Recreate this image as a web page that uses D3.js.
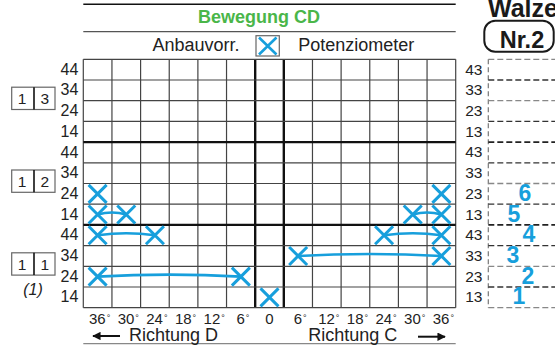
<!DOCTYPE html>
<html>
<head>
<meta charset="utf-8">
<script src="https://cdn.jsdelivr.net/npm/d3@7"></script>
<style>
  html, body { margin: 0; padding: 0; background: #fff; }
  svg { display: block; font-family: "Liberation Sans", Arial, sans-serif; }
</style>
</head>
<body>
<svg id="chart" width="555" height="345"></svg>
<script>
// Switching angles, Richtung D negative, Richtung C positive
const degrees = [-36, -30, -24, -18, -12, -6, 0, 6, 12, 18, 24, 30, 36];
// Contact groups, top to bottom
const groups = ["1 3", "1 2", "1 1"];
const leftRows = [44, 34, 24, 14];
const rightRows = [43, 33, 23, 13];

// Closed contacts (group, row, angle)
const crosses = [
  { group: "1 2", row: 24, deg: -36 },
  { group: "1 2", row: 14, deg: -36 },
  { group: "1 2", row: 14, deg: -30 },
  { group: "1 1", row: 44, deg: -36 },
  { group: "1 1", row: 44, deg: -24 },
  { group: "1 1", row: 24, deg: -36 },
  { group: "1 1", row: 24, deg: -6 },
  { group: "1 1", row: 14, deg: 0 },
  { group: "1 2", row: 24, deg: 36 },
  { group: "1 2", row: 14, deg: 30 },
  { group: "1 2", row: 14, deg: 36 },
  { group: "1 1", row: 44, deg: 24 },
  { group: "1 1", row: 44, deg: 36 },
  { group: "1 1", row: 34, deg: 6 },
  { group: "1 1", row: 34, deg: 36 }
];

// Closed ranges joining two crosses
const spans = [
  { group: "1 2", row: 14, from: -36, to: -30 },
  { group: "1 1", row: 44, from: -36, to: -24 },
  { group: "1 1", row: 24, from: -36, to: -6 },
  { group: "1 2", row: 14, from: 30, to: 36 },
  { group: "1 1", row: 44, from: 24, to: 36 },
  { group: "1 1", row: 34, from: 6, to: 36 }
];

// Wire numbers on the drum side
const wires = [
  { label: "1", group: "1 1", row: 13 },
  { label: "2", group: "1 1", row: 23 },
  { label: "3", group: "1 1", row: 33 },
  { label: "4", group: "1 1", row: 43 },
  { label: "5", group: "1 2", row: 13 },
  { label: "6", group: "1 2", row: 23 }
];

const blue = "#179fdc";
const ink = "#222";
const svg = d3.select("#chart");

const rowKeys = groups.flatMap(g => leftRows.map((r, i) => g + "|" + i));
const x = d3.scaleBand().domain(degrees).range([83.3, 455.7]);
const y = d3.scaleBand().domain(rowKeys).range([59.3, 307.7]);
const bw = x.bandwidth(), bh = y.bandwidth();
const [gx0, gx1] = x.range();
const [gy0, gy1] = y.range();

const keyLeft = (g, r) => g + "|" + leftRows.indexOf(r);
const keyRight = (g, r) => g + "|" + rightRows.indexOf(r);
const cx = d => x(d) + bw / 2;
const cy = k => y(k) + bh / 2;

// Header rules
svg.append("line").attr("x1", gx0).attr("x2", gx1).attr("y1", 4.3).attr("y2", 4.3)
  .attr("stroke", "#111").attr("stroke-width", 1.5);
svg.append("line").attr("x1", gx0).attr("x2", gx1).attr("y1", 31.7).attr("y2", 31.7)
  .attr("stroke", "#555").attr("stroke-width", 1.2);
svg.append("line").attr("x1", gx0).attr("x2", gx1).attr("y1", 343.6).attr("y2", 343.6)
  .attr("stroke", "#888").attr("stroke-width", 1.2);

svg.append("text").attr("x", 259).attr("y", 22.7).attr("text-anchor", "middle")
  .attr("font-size", 18).attr("font-weight", "bold").attr("fill", "#4ab649")
  .text("Bewegung CD");

// Legend
svg.append("text").attr("x", 239.5).attr("y", 50.7).attr("text-anchor", "end")
  .attr("font-size", 18).attr("fill", ink).text("Anbauvorr.");
svg.append("rect").attr("x", 256).attr("y", 35.7).attr("width", 23.3).attr("height", 20.3)
  .attr("fill", "none").attr("stroke", "#666").attr("stroke-width", 1.2);
svg.append("path").attr("d", "M259,37.5L276.5,54.5M276.5,37.5L259,54.5")
  .attr("stroke", blue).attr("stroke-width", 2.6).attr("fill", "none");
svg.append("text").attr("x", 298.3).attr("y", 50.7)
  .attr("font-size", 18).attr("fill", ink).text("Potenziometer");

// Grid
const grid = svg.append("g");
const xEdges = degrees.map(d => x(d)).concat([gx1]);
const yEdges = rowKeys.map(k => y(k)).concat([gy1]);
xEdges.forEach(v => {
  const heavy = Math.abs(v - x(0)) < 0.1 || Math.abs(v - (x(0) + bw)) < 0.1;
  grid.append("line").attr("x1", v).attr("x2", v).attr("y1", gy0).attr("y2", gy1)
    .attr("stroke", heavy ? "#111" : "#444").attr("stroke-width", heavy ? 2.4 : 1.2);
});
yEdges.forEach((v, i) => {
  const heavy = i > 0 && i < yEdges.length - 1 && i % leftRows.length === 0;
  grid.append("line").attr("x1", gx0).attr("x2", gx1).attr("y1", v).attr("y2", v)
    .attr("stroke", heavy ? "#111" : "#444").attr("stroke-width", heavy ? 2.4 : 1.2);
});

// Axes
const axisFont = (sel, size) => sel.selectAll("text").attr("font-size", size).attr("fill", ink)
  .attr("font-family", "Liberation Sans, Arial, sans-serif");

const bottom = svg.append("g").attr("transform", `translate(0,${gy1})`)
  .call(d3.axisBottom(x).tickSize(0).tickPadding(5.6).tickFormat(d => Math.abs(d)));
bottom.select(".domain").remove();
axisFont(bottom, 15);
// small raised degree sign after each non-zero angle
bottom.selectAll(".tick text").each(function (d) {
  if (d !== 0) {
    d3.select(this).append("tspan").attr("font-size", 9).attr("dx", 1).attr("dy", -3).text("°");
    d3.select(this).attr("dx", 2);
  }
});

const left = svg.append("g").attr("transform", `translate(${gx0},0)`)
  .call(d3.axisLeft(y).tickSize(0).tickPadding(5)
    .tickFormat(k => leftRows[+k.split("|")[1]]));
left.select(".domain").remove();
axisFont(left, 16);

const right = svg.append("g").attr("transform", `translate(${gx1},0)`)
  .call(d3.axisRight(y).tickSize(0).tickPadding(9.5)
    .tickFormat(k => rightRows[+k.split("|")[1]]));
right.select(".domain").remove();
axisFont(right, 15.5);

// Direction captions with arrows
const defs = svg.append("defs");
defs.append("marker").attr("id", "head").attr("viewBox", "0 0 10 10")
  .attr("refX", 9).attr("refY", 5).attr("markerWidth", 4.2).attr("markerHeight", 4.2)
  .attr("orient", "auto").append("path").attr("d", "M0,0L10,5L0,10Z").attr("fill", "#111");
svg.append("line").attr("x1", 120).attr("x2", 93).attr("y1", 336).attr("y2", 336)
  .attr("stroke", "#111").attr("stroke-width", 2).attr("marker-end", "url(#head)");
svg.append("text").attr("x", 129).attr("y", 340.7).attr("font-size", 18).attr("fill", ink)
  .text("Richtung D");
svg.append("text").attr("x", 308.3).attr("y", 340.7).attr("font-size", 18).attr("fill", ink)
  .text("Richtung C");
svg.append("line").attr("x1", 418).attr("x2", 445).attr("y1", 336.7).attr("y2", 336.7)
  .attr("stroke", "#111").attr("stroke-width", 2).attr("marker-end", "url(#head)");

// Group labels
groups.forEach((g, gi) => {
  const mid = y(g + "|2");
  const top = mid - 13.5;
  const grp = svg.append("g");
  grp.append("rect").attr("x", 11.7).attr("y", top).attr("width", 43.3).attr("height", 22.3)
    .attr("fill", "none").attr("stroke", "#666").attr("stroke-width", 1.2);
  grp.append("line").attr("x1", 34).attr("x2", 34).attr("y1", top).attr("y2", top + 22.3)
    .attr("stroke", "#111").attr("stroke-width", 1.6);
  const [a, b] = g.split(" ");
  grp.append("text").attr("x", 22).attr("y", top + 16.7).attr("text-anchor", "middle")
    .attr("font-size", 15.5).attr("fill", ink).text(a);
  grp.append("text").attr("x", 44.7).attr("y", top + 16.7).attr("text-anchor", "middle")
    .attr("font-size", 15.5).attr("fill", ink).text(b);
  if (gi === groups.length - 1) {
    svg.append("text").attr("x", 33).attr("y", top + 42).attr("text-anchor", "middle")
      .attr("font-size", 16).attr("font-style", "italic").attr("fill", ink).text("(1)");
  }
});

// Drum: title, number badge and dashed wire boxes
svg.append("text").attr("x", 488).attr("y", 16.5).attr("font-size", 25).attr("font-weight", "bold")
  .attr("fill", "#1a1a1a").text("Walze");
svg.append("rect").attr("x", 484.3).attr("y", 20.7).attr("width", 69.4).attr("height", 31)
  .attr("rx", 11).attr("fill", "none").attr("stroke", "#1a1a1a").attr("stroke-width", 2);
svg.append("text").attr("x", 522).attr("y", 47.7).attr("text-anchor", "middle")
  .attr("font-size", 23.5).attr("font-weight", "bold").attr("fill", "#1a1a1a").text("Nr.2");

const drum = svg.append("g");
drum.append("line").attr("x1", 488.3).attr("x2", 488.3).attr("y1", gy0).attr("y2", gy1)
  .attr("stroke", "#777").attr("stroke-width", 1.2).attr("stroke-dasharray", "5,3");
yEdges.forEach((v, i) => {
  const heavy = i > 0 && i < yEdges.length - 1 && i % leftRows.length === 0;
  drum.append("line").attr("x1", 488.3).attr("x2", 555).attr("y1", v).attr("y2", v)
    .attr("stroke", heavy ? "#222" : (i % 2 ? "#333" : "#888"))
    .attr("stroke-width", heavy ? 1.8 : 1.3).attr("stroke-dasharray", "6,3");
});

// Wire numbers
const wireNudge = { "1": -3, "2": 6, "3": -9, "4": 7, "5": -8, "6": 3 };
svg.append("g").selectAll("text").data(wires).join("text")
  .attr("x", d => 522 + wireNudge[d.label])
  .attr("y", d => cy(keyRight(d.group, d.row)) + 7)
  .attr("text-anchor", "middle").attr("font-size", 23).attr("font-weight", "bold")
  .attr("fill", blue).text(d => d.label);

// Closed ranges
svg.append("g").selectAll("path").data(spans).join("path")
  .attr("d", d => {
    const x1 = cx(d.from), x2 = cx(d.to), yy = cy(keyLeft(d.group, d.row));
    return `M${x1},${yy}Q${(x1 + x2) / 2},${yy - 4} ${x2},${yy}`;
  })
  .attr("fill", "none").attr("stroke", blue).attr("stroke-width", 2.6);

// Crosses
const h = 9;
svg.append("g").selectAll("path").data(crosses).join("path")
  .attr("d", d => {
    const px = cx(d.deg), py = cy(keyLeft(d.group, d.row));
    return `M${px - h},${py - h}L${px + h},${py + h}M${px + h},${py - h}L${px - h},${py + h}`;
  })
  .attr("fill", "none").attr("stroke", blue).attr("stroke-width", 3);
</script>
</body>
</html>
